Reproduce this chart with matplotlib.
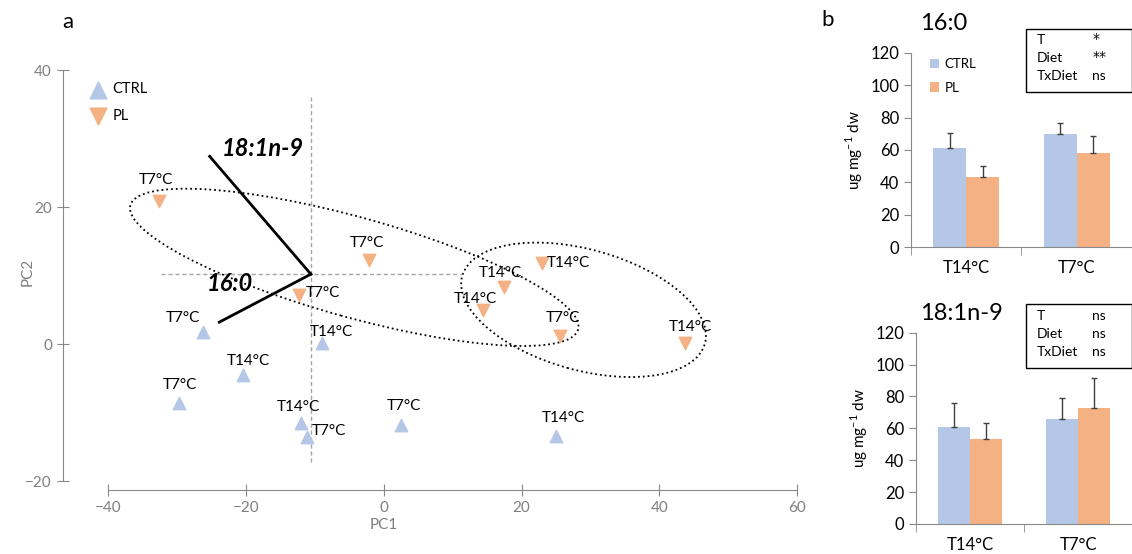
import matplotlib
matplotlib.use("Agg")
import matplotlib.pyplot as plt
from matplotlib.patches import Ellipse, Rectangle
import numpy as np

plt.rcParams['font.family'] = ['Lato', 'DejaVu Sans']

# PCA scores (panel a)
ctrl_pc1 = [-26.3, -9.0, -20.5, -29.8, -12.0, -11.2, 2.5, 25.0]
ctrl_pc2 = [1.7, 0.1, -4.5, -8.6, -11.5, -13.6, -11.8, -13.4]
ctrl_lab = ["T7°C", "T14°C", "T14°C", "T7°C", "T14°C", "T7°C", "T7°C", "T14°C"]

pl_pc1 = [-32.7, -2.2, -12.3, 23.0, 17.4, 14.4, 25.6, 43.8]
pl_pc2 = [20.9, 12.3, 7.2, 11.9, 8.3, 5.0, 1.2, 0.1]
pl_lab = ["T7°C", "T7°C", "T7°C", "T14°C", "T14°C", "T14°C", "T7°C", "T14°C"]

# loading vectors
load_origin = (-10.6, 10.2)
load_names = ["18:1n-9", "16:0"]
load_end_pc1 = [-25.3, -23.9]
load_end_pc2 = [27.4, 3.2]

# bar data (panel b)
groups = ["T14°C", "T7°C"]
c160 = [61.0, 69.8]
c160_err = [9.6, 6.8]
p160 = [43.1, 58.1]
p160_err = [7.0, 10.5]
c181 = [60.8, 65.9]
c181_err = [14.9, 12.9]
p181 = [53.5, 72.8]
p181_err = [10.1, 19.0]
stat_terms = ["T", "Diet", "TxDiet"]
stat_160 = ["*", "**", "ns"]
stat_181 = ["ns", "ns", "ns"]

blue = "#B4C7E7"
orange = "#F4B183"
gray = "#898989"

W, H = 1132, 554
fig = plt.figure(figsize=(W / 100, H / 100), dpi=100)

def rect(x0, x1, ytop, ybot):
    return [x0 / W, (H - ybot) / H, (x1 - x0) / W, (ybot - ytop) / H]

# ---------- panel a ----------
ax = fig.add_axes(rect(63, 797, 66.6, 490))
ax.set_xlim(-46.6, 60)
ax.set_ylim(-21.3, 40.5)
for s in ["top", "right"]:
    ax.spines[s].set_visible(False)
for s in ["left", "bottom"]:
    ax.spines[s].set_color(gray)
ax.spines["left"].set_bounds(-20, 40)
ax.spines["bottom"].set_bounds(-40, 60)
ax.set_xticks([-40, -20, 0, 20, 40, 60])
ax.set_yticks([-20, 0, 20, 40])
ax.tick_params(direction="inout", length=9, color=gray, labelcolor="#7f7f7f", labelsize=11)

ax.plot([-10.6, -10.6], [-17.2, 36], ls=(0, (3, 2)), color="#a5a5a5", lw=1)
ax.plot([-32.4, 11.4], [10.2, 10.2], ls=(0, (3, 2)), color="#a5a5a5", lw=1)

ax.add_patch(Ellipse((-4.3, 11.2), 67.5, 14.6, angle=-15.6, fill=False, ls=":", lw=1.3, color="black"))
ax.add_patch(Ellipse((29.0, 5.0), 36.6, 17.6, angle=-15.7, fill=False, ls=":", lw=1.3, color="black"))

for i in range(len(load_names)):
    ax.plot([load_origin[0], load_end_pc1[i]], [load_origin[1], load_end_pc2[i]], color="black", lw=2)
ax.text(-17.6, 28.5, load_names[0], ha="center", va="center", fontsize=17, fontweight="bold", fontstyle="italic")
ax.text(-22.4, 8.9, load_names[1], ha="center", va="center", fontsize=17, fontweight="bold", fontstyle="italic")

hc = ax.scatter(ctrl_pc1, ctrl_pc2, marker="^", s=80, color=blue, zorder=3, label="CTRL")
hp = ax.scatter(pl_pc1, pl_pc2, marker="v", s=80, color=orange, zorder=3, label="PL")

ctrl_off = [(-20, 14), (9, 11), (6, 14), (1, 18), (-3, 16), (22, 6), (3, 19), (7, 18)]
pl_off = [(-3, 21), (-2, 17), (24, 2), (26, 0), (-3, 14), (-8, 11), (3, 18), (5, 16)]
for x, y, t, o in zip(ctrl_pc1, ctrl_pc2, ctrl_lab, ctrl_off):
    ax.annotate(t, (x, y), xytext=o, textcoords="offset pixels", ha="center", va="center", fontsize=11)
for x, y, t, o in zip(pl_pc1, pl_pc2, pl_lab, pl_off):
    ax.annotate(t, (x, y), xytext=o, textcoords="offset pixels", ha="center", va="center", fontsize=11)

ax.legend(handles=[hc, hp], loc="upper left", bbox_to_anchor=(0.028, 0.98), frameon=False,
          fontsize=10.5, handlelength=1.0, handletextpad=0.5, labelspacing=0.85, borderpad=0,
          scatterpoints=1, markerscale=1.35)

ax.set_xlabel("PC1", color="#7f7f7f", fontsize=11)
ax.xaxis.set_label_coords(0.437, -0.065)
ax.set_ylabel("PC2", color="#7f7f7f", fontsize=11)
ax.yaxis.set_label_coords(-0.038, 0.515)

fig.text(68 / W, 1 - 22 / H, "a", fontsize=16, ha="center", va="center")
fig.text(828 / W, 1 - 20 / H, "b", fontsize=16, ha="center", va="center")

# ---------- panel b ----------
def bar_panel(r, cvals, cerr, pvals, perr, title, title_xy, stats, box, legend):
    bx = fig.add_axes(r)
    x = np.arange(len(groups))
    bx.bar(x - 0.15, cvals, 0.3, color=blue, label="CTRL")
    bx.bar(x + 0.15, pvals, 0.3, color=orange, label="PL")
    bx.errorbar(x - 0.15, cvals, yerr=[np.zeros(len(cerr)), cerr], fmt="none", ecolor="#404040", elinewidth=1, capsize=2.5)
    bx.errorbar(x + 0.15, pvals, yerr=[np.zeros(len(perr)), perr], fmt="none", ecolor="#404040", elinewidth=1, capsize=2.5)
    bx.set_xlim(-0.5, 1.5)
    bx.set_ylim(0, 120)
    bx.set_yticks(range(0, 121, 20))
    for s in ["top", "right"]:
        bx.spines[s].set_visible(False)
    for s in ["left", "bottom"]:
        bx.spines[s].set_color(gray)
    bx.set_xticks(x)
    bx.set_xticklabels(groups)
    bx.set_xticks([-0.5, 0.5, 1.5], minor=True)
    bx.tick_params(axis="x", which="major", length=0, labelsize=12, pad=9)
    bx.tick_params(axis="x", which="minor", length=6, color=gray)
    bx.tick_params(axis="y", length=5, color=gray, labelsize=12)
    bx.set_ylabel("ug mg$^{\\mathregular{-1}}$ dw", fontsize=11, labelpad=4)
    fig.text(title_xy[0] / W, 1 - title_xy[1] / H, title, fontsize=17, ha="left", va="center")
    x0, y0, x1, y1 = box
    fig.add_artist(Rectangle((x0 / W, 1 - y1 / H), (x1 - x0) / W, (y1 - y0) / H,
                             transform=fig.transFigure, fill=False, ec="black", lw=1))
    rows = [y0 + 11.5, y0 + 30, y0 + 48]
    for t, v, yy in zip(stat_terms, stats, rows):
        fig.text((x0 + 11) / W, 1 - yy / H, t, fontsize=10, ha="left", va="center")
        if "*" in v:
            fig.text((x0 + 67) / W, 1 - (yy - 1) / H, v, fontsize=10, ha="left", va="center",
                     family="DejaVu Sans")
        else:
            fig.text((x0 + 66) / W, 1 - yy / H, v, fontsize=10, ha="left", va="center")
    if legend:
        bx.legend(loc="upper left", bbox_to_anchor=(0.056, 1.005), frameon=False, fontsize=9.5,
                  handlelength=0.7, handleheight=0.7, handletextpad=0.4, labelspacing=0.85, borderpad=0)
    return bx

bar_panel(rect(911, 1132, 52.7, 247.3), c160, c160_err, p160, p160_err, "16:0", (920, 24),
          stat_160, (1026, 28.5, 1131.5, 91.7), True)
bar_panel(rect(916, 1132, 332.7, 524), c181, c181_err, p181, p181_err, "18:1n-9", (920, 313),
          stat_181, (1026, 304, 1131.5, 368.3), False)

fig.savefig("out.png", dpi=100)
